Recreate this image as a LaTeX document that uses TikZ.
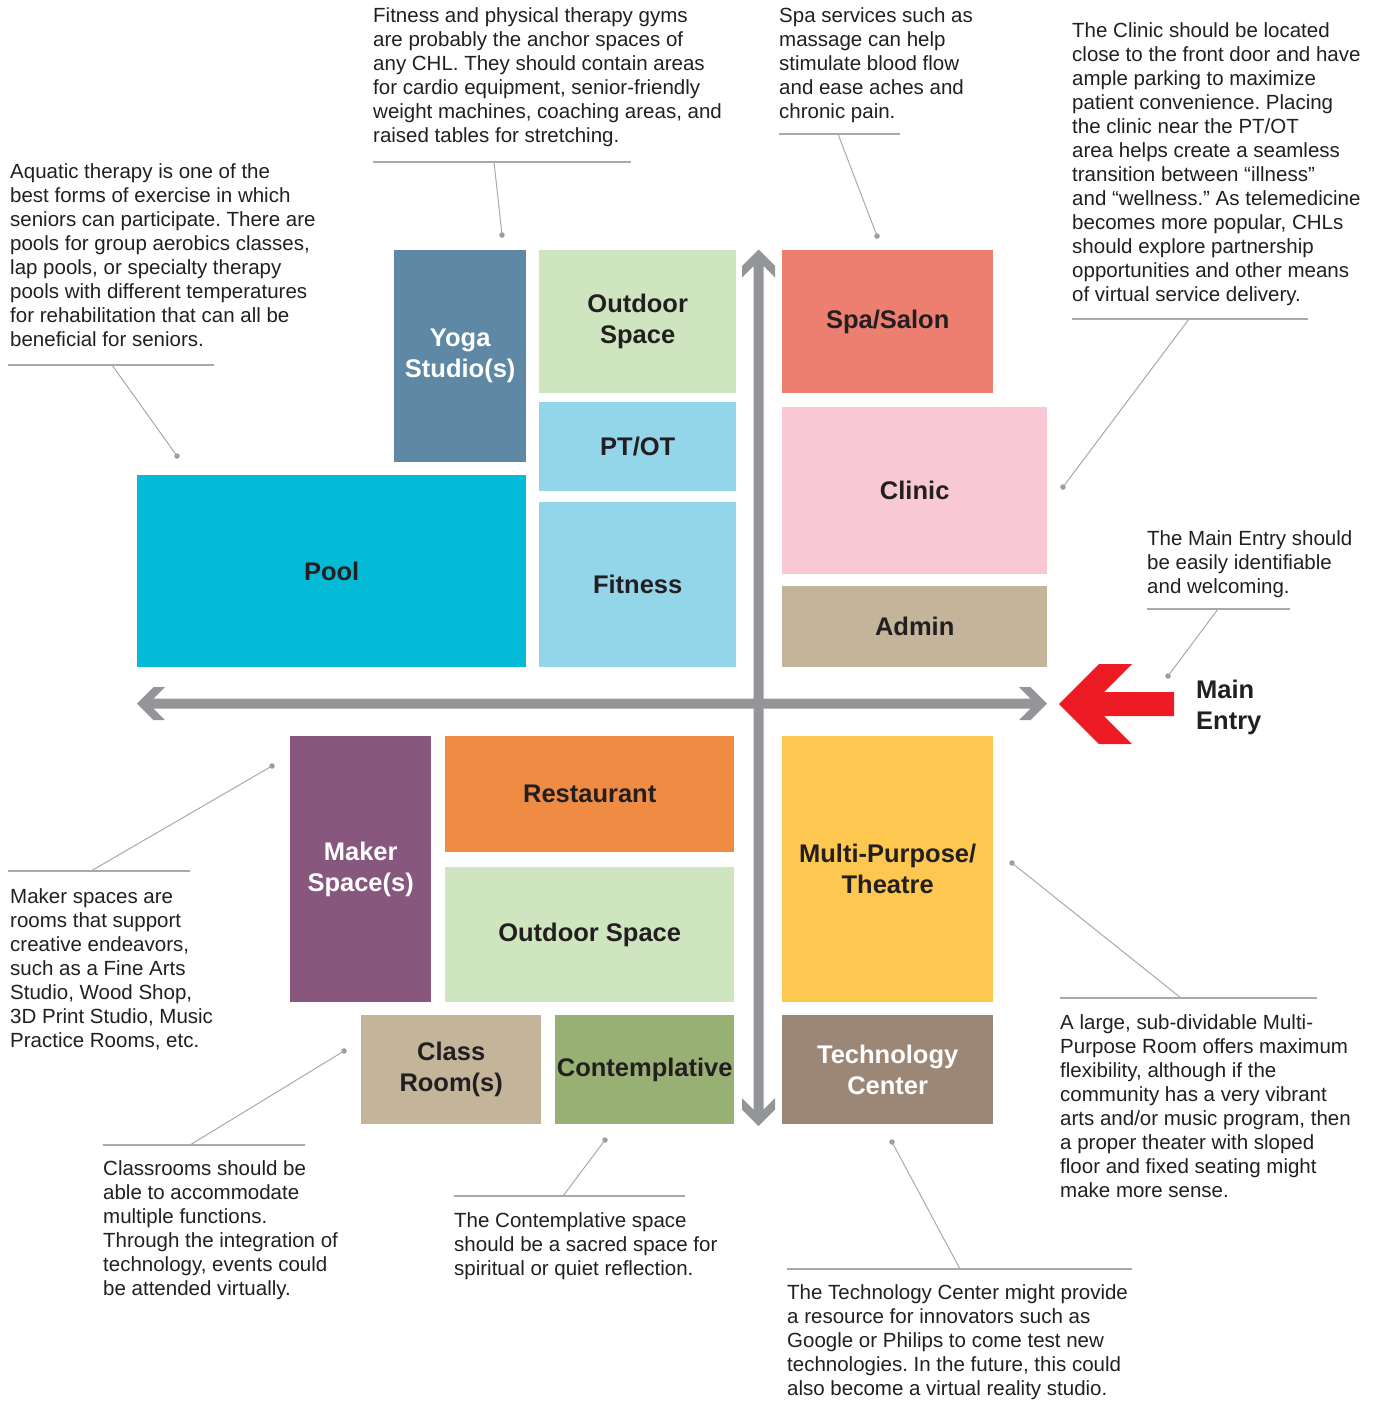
\documentclass[tikz,border=0pt]{standalone}
\usepackage{fontspec}
\setmainfont{Liberation Sans}
\frenchspacing
\definecolor{ink}{HTML}{231F20}
\definecolor{yogac}{HTML}{5F88A5}
\definecolor{greenc}{HTML}{CFE5C0}
\definecolor{bluec}{HTML}{93D5E9}
\definecolor{poolc}{HTML}{03BBD7}
\definecolor{spac}{HTML}{ED7F70}
\definecolor{clinicc}{HTML}{F8C9D4}
\definecolor{tanc}{HTML}{C4B49A}
\definecolor{makerc}{HTML}{88577E}
\definecolor{orangec}{HTML}{F08B43}
\definecolor{contc}{HTML}{99B075}
\definecolor{yellowc}{HTML}{FEC74F}
\definecolor{techc}{HTML}{9C8777}
\definecolor{axisgray}{HTML}{939598}
\definecolor{rulegray}{HTML}{A7A9AC}
\definecolor{dotgray}{HTML}{9A9B9E}
\definecolor{entryred}{HTML}{ED1C24}
\newcommand{\labelfnt}{\fontsize{25.5}{31}\selectfont\bfseries}
\newcommand{\notefnt}{\fontsize{20.5}{24}\selectfont}
\begin{document}
\begin{tikzpicture}[x=1pt,y=-1pt,
  room/.style={inner sep=0pt, anchor=north west, align=center, font=\labelfnt, text=ink},
  note/.style={inner sep=0pt, anchor=north west, align=left, font=\notefnt, text=ink},
  rule/.style={draw=rulegray, line width=1.2pt},
  leader/.style={draw=rulegray, line width=1pt},
  dot/.style={circle, fill=dotgray, inner sep=0pt, minimum size=5.5pt}]
\useasboundingbox (0,0) rectangle (1381,1401);

% rooms
\node[room, fill=yogac, text=white, minimum width=132pt, minimum height=212pt] (yoga) at (394,250) {Yoga\\Studio(s)};
\node[room, fill=greenc, minimum width=197pt, minimum height=143pt] (outtop) at (539,250) {Outdoor\\Space};
\node[room, fill=bluec, minimum width=197pt, minimum height=89pt] (ptot) at (539,402) {PT/OT};
\node[room, fill=bluec, minimum width=197pt, minimum height=165pt] (fitness) at (539,502) {Fitness};
\node[room, fill=poolc, minimum width=389pt, minimum height=192pt] (pool) at (137,475) {Pool};
\node[room, fill=spac, minimum width=211pt, minimum height=143pt] (spa) at (782,250) {Spa/Salon};
\node[room, fill=clinicc, minimum width=265pt, minimum height=167pt] (clinic) at (782,407) {Clinic};
\node[room, fill=tanc, minimum width=265pt, minimum height=81pt] (admin) at (782,586) {Admin};
\node[room, fill=makerc, text=white, minimum width=141pt, minimum height=266pt] (maker) at (290,736) {Maker\\Space(s)};
\node[room, fill=orangec, minimum width=289pt, minimum height=116pt] (rest) at (445,736) {Restaurant};
\node[room, fill=greenc, minimum width=289pt, minimum height=135pt] (outbot) at (445,867) {Outdoor Space};
\node[room, fill=tanc, minimum width=180pt, minimum height=109pt] (class) at (361,1015) {Class\\Room(s)};
\node[room, fill=contc, minimum width=179pt, minimum height=109pt] (cont) at (555,1015) {Contemplative};
\node[room, fill=yellowc, minimum width=211pt, minimum height=266pt] (multi) at (782,736) {Multi-Purpose/\\Theatre};
\node[room, fill=techc, text=white, minimum width=211pt, minimum height=109pt] (tech) at (782,1015) {Technology\\Center};

% axes
\fill[axisgray] (137,703.5) -- (153.5,687) -- (165,687) -- (153.5,698.5) -- (1030.5,698.5) -- (1019,687) -- (1030.5,687) -- (1047,703.5) -- (1030.5,720) -- (1019,720) -- (1030.5,708.5) -- (153.5,708.5) -- (165,720) -- (153.5,720) -- cycle;
\fill[axisgray] (758.5,249.5) -- (775,266) -- (775,277.5) -- (763.5,266) -- (763.5,1109.5) -- (775,1098) -- (775,1109.5) -- (758.5,1126) -- (742,1109.5) -- (742,1098) -- (753.5,1109.5) -- (753.5,266) -- (742,277.5) -- (742,266) -- cycle;

% main entry
\fill[entryred] (1059,704) -- (1099,664) -- (1132,664) -- (1104,692) -- (1174,692) -- (1174,716) -- (1104,716) -- (1132,744) -- (1099,744) -- cycle;
\node[inner sep=0pt, anchor=west, align=left, font=\labelfnt, text=ink] (mainentry) at (1196,707) {Main\\Entry};

% notes
\node[note] (n1) at (10,163) {Aquatic therapy is one of the\\best forms of exercise in which\\seniors can participate. There are\\pools for group aerobics classes,\\lap pools, or specialty therapy\\pools with different temperatures\\for rehabilitation that can all be\\beneficial for seniors.};
\node[note] (n2) at (373,7) {Fitness and physical therapy gyms\\are probably the anchor spaces of\\any CHL. They should contain areas\\for cardio equipment, senior-friendly\\weight machines, coaching areas, and\\raised tables for stretching.};
\node[note] (n3) at (779,7) {Spa services such as\\massage can help\\stimulate blood flow\\and ease aches and\\chronic pain.};
\node[note] (n4) at (1072,22) {The Clinic should be located\\close to the front door and have\\ample parking to maximize\\patient convenience. Placing\\the clinic near the PT/OT\\area helps create a seamless\\transition between “illness”\\and “wellness.” As telemedicine\\becomes more popular, CHLs\\should explore partnership\\opportunities and other means\\of virtual service delivery.};
\node[note] (n5) at (1147,530) {The Main Entry should\\be easily identifiable\\and welcoming.};
\node[note] (n6) at (10,888) {Maker spaces are\\rooms that support\\creative endeavors,\\such as a Fine Arts\\Studio, Wood Shop,\\3D Print Studio, Music\\Practice Rooms, etc.};
\node[note] (n7) at (103,1160) {Classrooms should be\\able to accommodate\\multiple functions.\\Through the integration of\\technology, events could\\be attended virtually.};
\node[note] (n8) at (454,1212) {The Contemplative space\\should be a sacred space for\\spiritual or quiet reflection.};
\node[note] (n9) at (787,1284) {The Technology Center might provide\\a resource for innovators such as\\Google or Philips to come test new\\technologies. In the future, this could\\also become a virtual reality studio.};
\node[note] (n10) at (1060,1014) {A large, sub-dividable Multi-\\Purpose Room offers maximum\\flexibility, although if the\\community has a very vibrant\\arts and/or music program, then\\a proper theater with sloped\\floor and fixed seating might\\make more sense.};

% rules
\draw[rule] (8,365) -- (214,365);
\draw[rule] (373,162) -- (631,162);
\draw[rule] (779,134) -- (900,134);
\draw[rule] (1072,319) -- (1308,319);
\draw[rule] (1147,609) -- (1290,609);
\draw[rule] (8,871) -- (190,871);
\draw[rule] (103,1145) -- (305,1145);
\draw[rule] (454,1196) -- (685,1196);
\draw[rule] (787,1269) -- (1132,1269);
\draw[rule] (1060,998) -- (1317,998);

% leader start points
\coordinate (s1) at (112,365);
\coordinate (s2) at (494,162);
\coordinate (s3) at (838,134);
\coordinate (s4) at (1189,319);
\coordinate (s5) at (1218,609);
\coordinate (s6) at (91,871);
\coordinate (s7) at (190,1145);
\coordinate (s8) at (563,1196);
\coordinate (s9) at (960,1269);
\coordinate (s10) at (1181,998);

% dots
\node[dot] (d1) at (177,456) {};
\node[dot] (d2) at (502,235) {};
\node[dot] (d3) at (877,236) {};
\node[dot] (d4) at (1063,487) {};
\node[dot] (d5) at (1168,676) {};
\node[dot] (d6) at (272,766) {};
\node[dot] (d7) at (344,1051) {};
\node[dot] (d8) at (605,1140) {};
\node[dot] (d9) at (892,1142) {};
\node[dot] (d10) at (1012,863) {};

\foreach \i in {1,...,10} {\draw[leader] (s\i) -- (d\i.center);}
\end{tikzpicture}
\end{document}
